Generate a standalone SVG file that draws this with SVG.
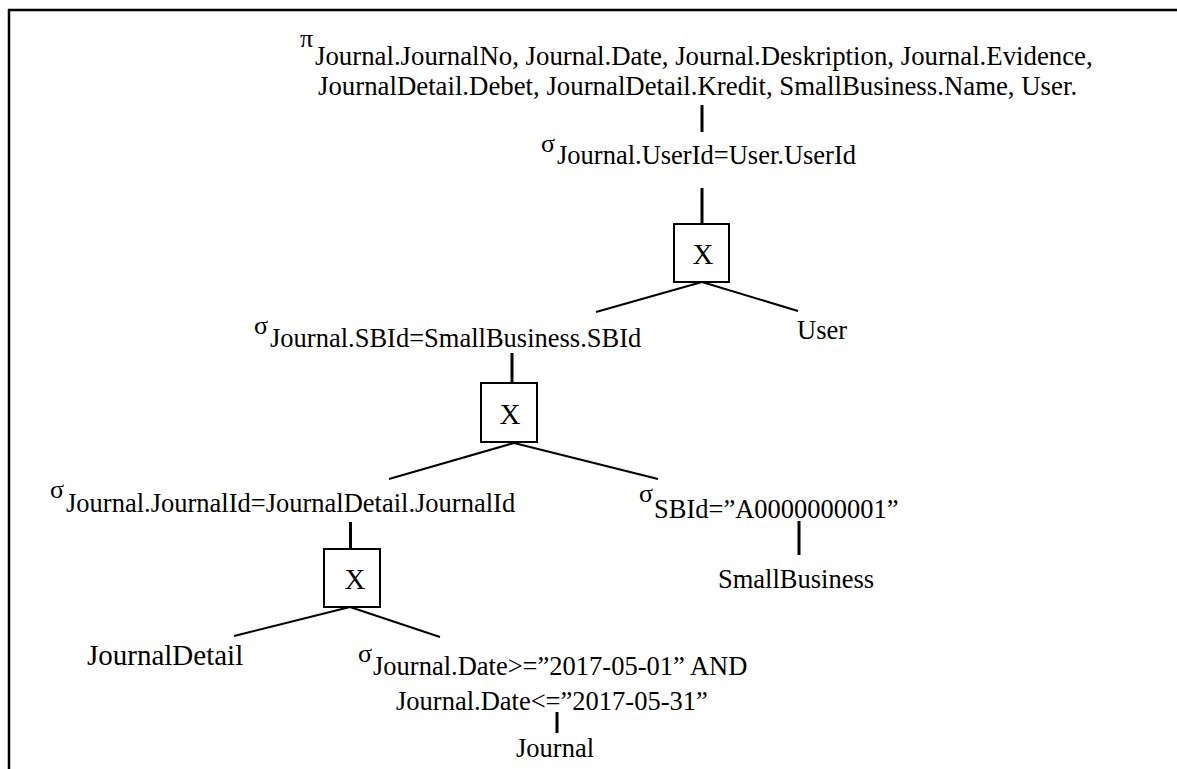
<svg xmlns="http://www.w3.org/2000/svg" width="1177" height="769" viewBox="0 0 1177 769">
<style>
text{font-family:"Liberation Serif","Times New Roman",serif;font-size:26.5px;fill:#000}
.sg{font-size:26px}
.big{font-size:29px}
.top{font-size:26.8px}
.frame{stroke:#000;stroke-width:2.5;fill:none}
.v{stroke:#000;stroke-width:3;fill:none}
.d{stroke:#000;stroke-width:2;fill:none}
.box{stroke:#000;stroke-width:2;fill:#fff}
.x{font-size:29px;text-anchor:middle}
</style>
<rect width="1177" height="769" fill="#fff"/>
<g id="frame">
<line class="frame" x1="8" y1="10" x2="1177" y2="10"/>
<line class="frame" x1="9" y1="9" x2="9" y2="769"/>
</g>
<g id="connectors">
<line class="v" x1="702" y1="105" x2="702" y2="132"/>
<line class="v" x1="702" y1="188" x2="702" y2="224"/>
<line class="d" x1="702" y1="282" x2="596" y2="312"/>
<line class="d" x1="702" y1="282" x2="798" y2="311"/>
<line class="v" x1="512" y1="353" x2="512" y2="383"/>
<line class="d" x1="514" y1="443" x2="389" y2="479"/>
<line class="d" x1="514" y1="443" x2="658" y2="479"/>
<line class="v" x1="350.5" y1="522" x2="350.5" y2="549"/>
<line class="d" x1="350" y1="607" x2="234" y2="636"/>
<line class="d" x1="350" y1="607" x2="440" y2="637"/>
<line class="v" x1="799" y1="521" x2="799" y2="555"/>
<line class="v" x1="557" y1="712" x2="557" y2="733"/>
</g>
<g id="projection">
<text x="300" y="47" class="sg">π</text>
<text x="315" y="65" class="top">Journal.JournalNo, Journal.Date, Journal.Deskription, Journal.Evidence,</text>
<text x="318" y="95" class="top">JournalDetail.Debet, JournalDetail.Kredit, SmallBusiness.Name, User.</text>
</g>
<g id="select-user">
<text x="541" y="152" class="sg">σ</text>
<text x="557" y="164">Journal.UserId=User.UserId</text>
</g>
<g id="join-1">
<rect class="box" x="674" y="224" width="55" height="58"/>
<text x="703" y="264" class="x">X</text>
</g>
<g id="user">
<text x="797" y="339">User</text>
</g>
<g id="select-sb">
<text x="254" y="334" class="sg">σ</text>
<text x="270" y="347">Journal.SBId=SmallBusiness.SBId</text>
</g>
<g id="join-2">
<rect class="box" x="481" y="383" width="56" height="59"/>
<text x="510" y="424" class="x">X</text>
</g>
<g id="select-journal-id">
<text x="50" y="498" class="sg">σ</text>
<text x="66" y="512">Journal.JournalId=JournalDetail.JournalId</text>
</g>
<g id="select-sbid">
<text x="639" y="502" class="sg">σ</text>
<text x="654" y="518">SBId=”A0000000001”</text>
</g>
<g id="smallbusiness">
<text x="718" y="588">SmallBusiness</text>
</g>
<g id="join-3">
<rect class="box" x="324" y="549" width="56" height="58"/>
<text x="355" y="589" class="x">X</text>
</g>
<g id="journaldetail">
<text x="87" y="665" class="big">JournalDetail</text>
</g>
<g id="select-date">
<text x="358" y="662" class="sg">σ</text>
<text x="373" y="675">Journal.Date&gt;=”2017-05-01” AND</text>
<text x="396" y="710">Journal.Date&lt;=”2017-05-31”</text>
</g>
<g id="journal">
<text x="516" y="757">Journal</text>
</g>
</svg>
